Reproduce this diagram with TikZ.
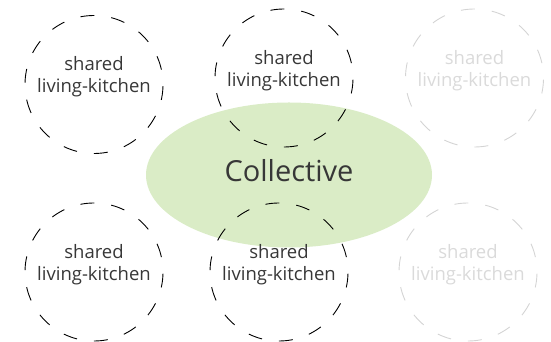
\documentclass[tikz,border=0pt]{standalone}
\usepackage{fontspec}
\setmainfont{Open Sans}
\usepackage{xcolor}
\usetikzlibrary{positioning, shapes.geometric}
\definecolor{mygreen}{RGB}{218, 236, 198}
\definecolor{mytext}{RGB}{55, 55, 55}
\definecolor{mygray}{RGB}{212, 212, 212}
\definecolor{mygraytext}{RGB}{218, 218, 218}

\tikzset{
    kitchen/.style={circle, draw, line width=0.9pt, dash pattern=on 14pt off 17pt, dash phase=16pt,
        minimum size=138pt, inner sep=0pt},
    kitchentext/.style={text=mytext, inner sep=0pt, anchor=base, font=\fontsize{18.5}{22}\selectfont},
    faded/.style={draw=mygray, text=mygraytext},
    collective/.style={ellipse, fill=mygreen, minimum width=286pt, minimum height=145pt}
}

\begin{document}
\begin{tikzpicture}[x=1pt, y=1pt]
    \useasboundingbox (0,0) rectangle (551,342);

    % Draw Collective
    \node[collective] (coll) at (289,167) {};

    % Draw Kitchens (top row)
    \node[kitchen] (kitTL) at (94,257.5) {};
    \node[kitchen] (kitTM) at (284,264) {};
    \node[kitchen, faded] (kitTR) at (474.5,264) {};

    % Draw Kitchens (bottom row)
    \node[kitchen] (kitBL) at (94,70) {};
    \node[kitchen] (kitBM) at (279,70) {};
    \node[kitchen, faded] (kitBR) at (468,70) {};

    % Kitchen labels
    \foreach \k/\c in {kitTL/mytext, kitTM/mytext, kitTR/mygraytext, kitBL/mytext, kitBM/mytext, kitBR/mygraytext} {
        \node[kitchentext, text=\c] (\k-a) at ([yshift=13.8pt]\k.center) {shared};
        \node[kitchentext, text=\c] (\k-b) at ([yshift=-8.2pt]\k.center) {living-kitchen};
    }

    % Label
    \node[text=mytext, inner sep=0pt, anchor=base, font=\fontsize{29}{32}\selectfont] (collText)
        at ([yshift=-7pt]coll.center) {Collective};
\end{tikzpicture}
\end{document}
